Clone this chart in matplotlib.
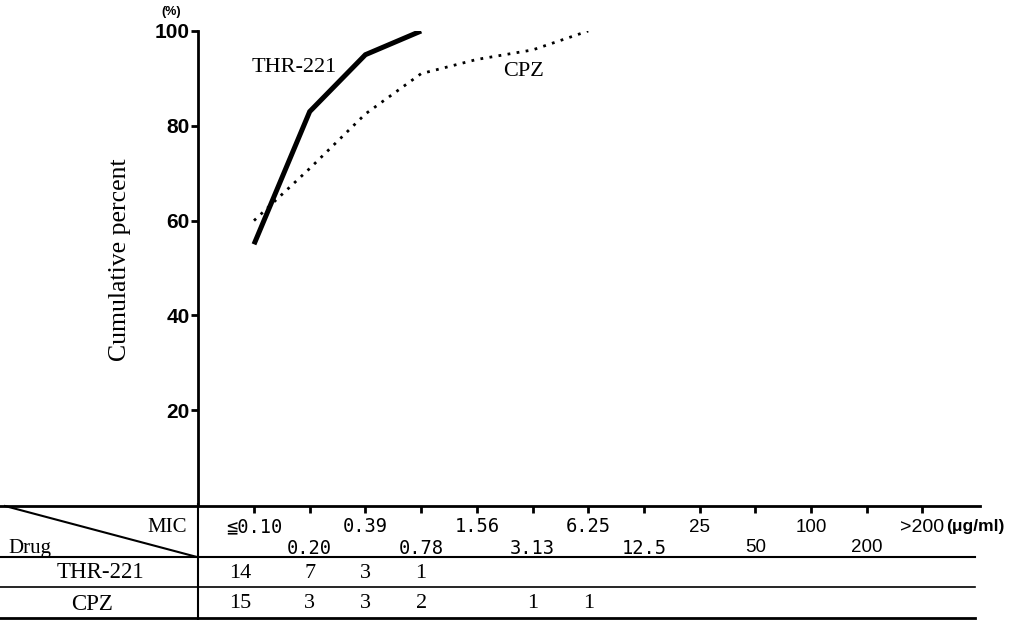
import numpy as np
import matplotlib.pyplot as plt

mic_labels = ["≦0.10", "0.20", "0.39", "0.78", "1.56", "3.13", "6.25",
              "12.5", "25", "50", "100", "200", ">200"]
thr_cum = [55, 83, 95, 100]
cpz_cum = [60, 71, 82.5, 91, 94, 96, 100]
thr_n = [14, 7, 3, 1]
cpz_n = [15, 3, 3, 2, 0, 1, 1]
yticks = [20, 40, 60, 80, 100]

W, H = 1025, 620
x0, dx = 198.3, 55.7   # pixel of x=0 and pixels per category


def px(p):
    # pixel column -> data x (shared by plot and table)
    return (p - x0) / dx


serif = ["Liberation Serif", "DejaVu Serif"]
sans = ["Liberation Sans", "DejaVu Sans"]

fig = plt.figure(figsize=(10.25, 6.2), dpi=100)

# plot part
ax = fig.add_axes([x0 / W, 1 - 505 / H, (980 - x0) / W, (505 - 31) / H])
ax.set_xlim(0, px(980))
ax.set_ylim(0, 100)
pos = np.arange(1, len(mic_labels) + 1)

ax.plot(pos[:len(thr_cum)], thr_cum, color="black", lw=3.6,
        solid_joinstyle="miter", solid_capstyle="butt")
ax.plot(pos[:len(cpz_cum)], cpz_cum, color="black", lw=2.0,
        linestyle=(0, (1, 2.3)))
ax.text(0.96, 92.3, "THR-221", ha="left", va="center", fontsize=16, family=serif)
ax.text(5.47, 91.4, "CPZ", ha="left", va="center", fontsize=16, family=serif)

for s in ["top", "right", "bottom"]:
    ax.spines[s].set_visible(False)
ax.spines["left"].set_linewidth(2)
ax.set_xticks([])
ax.set_yticks(yticks)
ax.tick_params(axis="y", direction="out", length=5, width=2, pad=1, labelsize=15)
for t in ax.get_yticklabels():
    t.set_family(sans)
    t.set_weight("bold")

fig.text(120 / W, 1 - 260 / H, "Cumulative percent", rotation=90,
         ha="center", va="center", fontsize=18.5, family=serif)
fig.text(171 / W, 1 - 12 / H, "(%)", ha="center", va="center",
         fontsize=9, weight="bold", family=sans)

# table part (y in pixel rows)
tab = fig.add_axes([0, 0, 1, 116 / H])
tab.set_xlim(px(0), px(W))
tab.set_ylim(621, 505)
tab.axis("off")

kw = dict(color="black", clip_on=False)
tab.plot([px(0), px(980)], [507, 507], lw=2, **kw)
tab.vlines(pos, 507, 514, lw=2, **kw)
tab.plot([px(0), px(975)], [558, 558], lw=1.5, **kw)
tab.plot([px(0), px(975)], [588, 588], lw=1.2, **kw)
tab.plot([px(0), px(975)], [619, 619], lw=2, **kw)
tab.plot([px(198), px(198)], [505, 620], lw=1.5, **kw)
tab.plot([px(5), px(197)], [507, 558], lw=1.5, **kw)

tab.text(px(187), 528, "MIC", ha="right", va="center", fontsize=15, family=serif)
tab.text(px(8), 549, "Drug", ha="left", va="center", fontsize=15, family=serif)
tab.text(px(100), 574, "THR-221", ha="center", va="center", fontsize=16.5, family=serif)
tab.text(px(92), 605, "CPZ", ha="center", va="center", fontsize=16.5, family=serif)

for i, lab in enumerate(mic_labels):
    y = 528 if i % 2 == 0 else 549
    fam = ["DejaVu Sans Mono"] if "." in lab else sans
    size = 14 if lab.startswith(">") else 13.5
    tab.text(pos[i], y, lab, ha="center", va="center", fontsize=size, family=fam)
tab.text(px(946), 528, "(μg/ml)", ha="left", va="center", fontsize=12.5,
         weight="bold", family=sans)

for i, n in enumerate(thr_n):
    if n:
        tab.text(pos[i] - (0.25 if n > 9 else 0), 574, str(n), ha="center",
                 va="center", fontsize=16, family=serif)
for i, n in enumerate(cpz_n):
    if n:
        tab.text(pos[i] - (0.25 if n > 9 else 0), 605, str(n), ha="center",
                 va="center", fontsize=16, family=serif)

fig.savefig("out.png", dpi=100)
